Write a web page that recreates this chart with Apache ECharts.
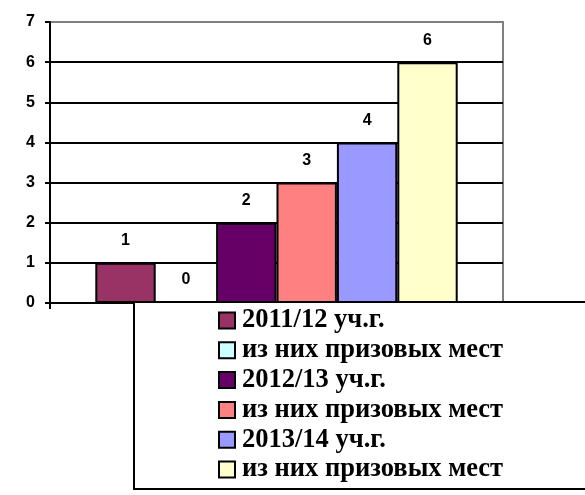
<!DOCTYPE html>
<html>
<head>
<meta charset="utf-8">
<script src="https://cdn.jsdelivr.net/npm/echarts@6/dist/echarts.min.js"></script>
<style>html,body{margin:0;padding:0;background:#fff;}#c{width:585px;height:495px;}</style>
</head>
<body>
<div id="c"></div>
<script>
const categories = [''];
const seriesNames = ['2011/12 уч.г.', 'из них призовых мест ', '2012/13 уч.г.', 'из них призовых мест  ', '2013/14 уч.г.', 'из них призовых мест   '];
const values = [1, 0, 2, 3, 4, 6];
const colors = ['#993366', '#CCFFFF', '#660066', '#FF8080', '#9999FF', '#FFFFCC'];
const yTicks = [0, 1, 2, 3, 4, 5, 6, 7];

const chart = echarts.init(document.getElementById('c'), null, {renderer: 'canvas'});
const series = seriesNames.map((n, i) => ({
  name: n,
  type: 'bar',
  data: [values[i]],
  barGap: '0%',
  barCategoryGap: '20%',
  itemStyle: {color: colors[i], borderColor: '#000', borderWidth: 2},
  label: {show: true, position: 'top', distance: 14, color: '#000',
    fontFamily: 'Liberation Sans', fontWeight: 'bold', fontSize: 16},
  emphasis: {disabled: true},
  animation: false
}));
chart.setOption({
  backgroundColor: '#fff',
  animation: false,
  grid: {left: 50, right: 82, top: 22, bottom: 192, show: true, borderColor: '#808080', borderWidth: 2, backgroundColor: 'transparent'},
  xAxis: {
    type: 'category', data: categories,
    axisLine: {show: true, lineStyle: {color: '#000', width: 2}},
    axisTick: {show: true, length: 6, lineStyle: {color: '#000', width: 2}},
    axisLabel: {show: false},
    splitLine: {show: false}
  },
  yAxis: {
    type: 'value', min: yTicks[0], max: yTicks[yTicks.length - 1], interval: 1,
    axisLine: {show: true, lineStyle: {color: '#000', width: 2}},
    axisTick: {show: true, length: 5, lineStyle: {color: '#000', width: 2}},
    axisLabel: {margin: 15, color: '#000', fontFamily: 'Liberation Sans', fontWeight: 'bold', fontSize: 16},
    splitLine: {show: true, lineStyle: {color: ['#000', '#000', '#000', '#000', '#000', '#000', '#000', '#808080'], width: 2}}
  },
  legend: {
    orient: 'vertical', left: 218, top: 307, height: 185, z: 10, padding: 0,
    itemWidth: 16, itemHeight: 16, itemGap: 2.8,
    icon: 'rect',
    itemStyle: {borderColor: '#000', borderWidth: 2},
    textStyle: {fontFamily: 'Liberation Serif', fontWeight: 'bold', fontSize: 26.5, color: '#000', padding: [0, 0, 0, 2]},
    selectedMode: false,
    data: seriesNames
  },
  graphic: [{
    type: 'rect', z: 5,
    shape: {x: 134, y: 302, width: 520, height: 187},
    style: {fill: '#fff', stroke: '#000', lineWidth: 2}
  }],
  series: series
});
</script>
</body>
</html>
